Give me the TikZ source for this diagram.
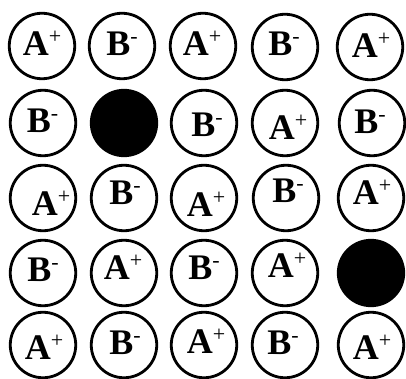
\documentclass[tikz,border=0pt]{standalone}
\usepackage{fontspec}
\setmainfont{Liberation Serif}
\newcommand\ionsup[1]{\raisebox{12pt}{\fontsize{22}{22}\selectfont\mdseries #1}}
\newcommand\Aion{\textbf{A}\ionsup{+}}
\newcommand\Bion{\textbf{B}\ionsup{-}}
\begin{document}
\begin{tikzpicture}[x=1pt,y=-1pt,
  site/.style={circle,draw=black,line width=2.8pt,minimum size=65.5pt,inner sep=0pt},
  vacancy/.style={site,fill=black},
  ion/.style={anchor=base,inner sep=0pt,font=\fontsize{36}{40}\selectfont}]
\useasboundingbox (0,0) rectangle (406,379);
% row 1
\node[site] (s11) at (42,46) {};
\node[site] (s12) at (122,46) {};
\node[site] (s13) at (203,46) {};
\node[site] (s14) at (285,47) {};
\node[site] (s15) at (370,47) {};
% row 2
\node[site] (s21) at (43,123) {};
\node[vacancy] (s22) at (124,123) {};
\node[site] (s23) at (204,123) {};
\node[site] (s24) at (285,123) {};
\node[site] (s25) at (372,123) {};
% row 3
\node[site] (s31) at (43,198) {};
\node[site] (s32) at (124,198) {};
\node[site] (s33) at (204,198) {};
\node[site] (s34) at (286,198) {};
\node[site] (s35) at (371,198) {};
% row 4
\node[site] (s41) at (43,273) {};
\node[site] (s42) at (124,273) {};
\node[site] (s43) at (204,273) {};
\node[site] (s44) at (285,273) {};
\node[vacancy] (s45) at (371,273) {};
% row 5
\node[site] (s51) at (43,345) {};
\node[site] (s52) at (124,345) {};
\node[site] (s53) at (204,345) {};
\node[site] (s54) at (285,345) {};
\node[site] (s55) at (371,345) {};
% labels
\node[ion] (l11) at (42,56) {\Aion};
\node[ion] (l12) at (122,56) {\Bion};
\node[ion] (l13) at (202,56) {\Aion};
\node[ion] (l14) at (284,56) {\Bion};
\node[ion] (l15) at (371,58) {\Aion};
\node[ion] (l21) at (42.5,133) {\Bion};
\node[ion] (l23) at (207,137) {\Bion};
\node[ion] (l24) at (288,140) {\Aion};
\node[ion] (l25) at (370,134) {\Bion};
\node[ion] (l31) at (51,215) {\Aion};
\node[ion] (l32) at (125,204.5) {\Bion};
\node[ion] (l33) at (206,216) {\Aion};
\node[ion] (l34) at (288,202) {\Bion};
\node[ion] (l35) at (372,204.5) {\Aion};
\node[ion] (l41) at (43,281.5) {\Bion};
\node[ion] (l42) at (123,279) {\Aion};
\node[ion] (l43) at (204,279) {\Bion};
\node[ion] (l44) at (287,277) {\Aion};
\node[ion] (l51) at (44,359) {\Aion};
\node[ion] (l52) at (125,354) {\Bion};
\node[ion] (l53) at (206,353) {\Aion};
\node[ion] (l54) at (283,354) {\Bion};
\node[ion] (l55) at (372,359) {\Aion};
\end{tikzpicture}
\end{document}
